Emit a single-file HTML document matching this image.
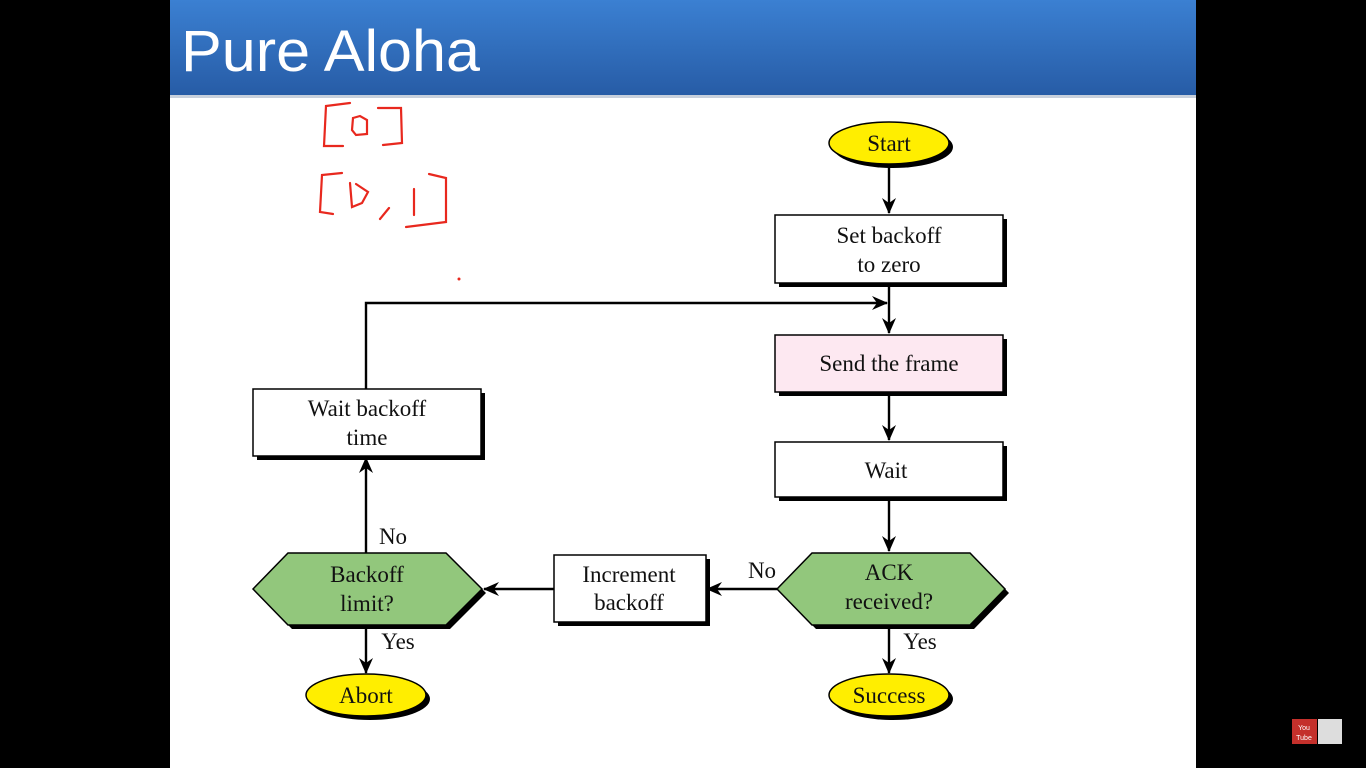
<!DOCTYPE html>
<html><head><style>
html,body{margin:0;padding:0;background:#000;width:1366px;height:768px;overflow:hidden}
svg{display:block}
</style></head><body>
<svg width="1366" height="768" viewBox="0 0 1366 768" xmlns="http://www.w3.org/2000/svg">
<defs>
<linearGradient id="hg" x1="0" y1="0" x2="0" y2="1">
<stop offset="0" stop-color="#3b80d2"/><stop offset="1" stop-color="#275ca6"/>
</linearGradient>
<marker id="ar" viewBox="0 0 16 14" refX="15" refY="7" markerWidth="16" markerHeight="14" markerUnits="userSpaceOnUse" orient="auto">
<path d="M0,0 L16,7 L0,14 L5,7 Z" fill="#000"/>
</marker>
</defs>
<rect x="170" y="0" width="1026" height="768" fill="#fff"/>
<rect x="170" y="0" width="1026" height="95" fill="url(#hg)"/>
<rect x="170" y="95" width="1026" height="3" fill="#c8d0dc"/>
<text x="181" y="71" font-family="Liberation Sans, sans-serif" font-size="58" fill="#fff" textLength="299" lengthAdjust="spacingAndGlyphs">Pure Aloha</text>

<g fill="none" stroke="#e8281e" stroke-width="2.2" stroke-linecap="round">
<path d="M350,103 L326,106 L324,146 L343,146"/>
<path d="M353,118 L360,116 L367,120 L367,134 L356,135 L352,130 Z"/>
<path d="M378,108 L401,108 L402,143 L383,145"/>
<path d="M342,173 L322,175 L320,212 L333,214"/>
<path d="M350,183 L352,207 L362,203 L368,192 L356,184"/>
<path d="M389,208 L380,219"/>
<path d="M414,189 L414,215"/>
<path d="M429,174 L446,178 L446,222 L406,227"/>
</g>
<circle cx="459" cy="279" r="1.5" fill="#e8281e"/>

<g stroke="#000" stroke-width="2.4" fill="none">
<line x1="889" y1="165" x2="889" y2="213" marker-end="url(#ar)"/>
<line x1="889" y1="284" x2="889" y2="333" marker-end="url(#ar)"/>
<polyline points="366,389 366,303 887,303" marker-end="url(#ar)"/>
<line x1="889" y1="393" x2="889" y2="440" marker-end="url(#ar)"/>
<line x1="889" y1="498" x2="889" y2="551" marker-end="url(#ar)"/>
<line x1="889" y1="626" x2="889" y2="673" marker-end="url(#ar)"/>
<line x1="777" y1="589" x2="707" y2="589" marker-end="url(#ar)"/>
<line x1="554" y1="589" x2="484" y2="589" marker-end="url(#ar)"/>
<line x1="366" y1="553" x2="366" y2="458" marker-end="url(#ar)"/>
<line x1="366" y1="626" x2="366" y2="673" marker-end="url(#ar)"/>
</g>

<g font-family="Liberation Serif, serif" font-size="23" fill="#111" text-anchor="middle">
<ellipse cx="893" cy="147" rx="60" ry="21" fill="#000"/>
<ellipse cx="889" cy="143" rx="60" ry="21" fill="#ffee00" stroke="#000" stroke-width="1.5"/>
<text x="889" y="151">Start</text>
<rect x="779" y="219" width="228" height="68" fill="#000"/>
<rect x="775" y="215" width="228" height="68" fill="#fff" stroke="#000" stroke-width="1.5"/>
<text x="889" y="243">Set backoff</text><text x="889" y="272">to zero</text>
<rect x="779" y="339" width="228" height="57" fill="#000"/>
<rect x="775" y="335" width="228" height="57" fill="#fde8f1" stroke="#000" stroke-width="1.5"/>
<text x="889" y="371">Send the frame</text>
<rect x="779" y="446" width="228" height="55" fill="#000"/>
<rect x="775" y="442" width="228" height="55" fill="#fff" stroke="#000" stroke-width="1.5"/>
<text x="886" y="478">Wait</text>
<polygon points="781,593 816,557 974,557 1009,593 974,629 816,629" fill="#000"/>
<polygon points="777,589 812,553 970,553 1005,589 970,625 812,625" fill="#92c77c" stroke="#000" stroke-width="1.5"/>
<text x="889" y="580">ACK</text><text x="889" y="609">received?</text>
<rect x="558" y="559" width="152" height="67" fill="#000"/>
<rect x="554" y="555" width="152" height="67" fill="#fff" stroke="#000" stroke-width="1.5"/>
<text x="629" y="582">Increment</text><text x="629" y="610">backoff</text>
<polygon points="257,593 292,557 450,557 486,593 450,629 292,629" fill="#000"/>
<polygon points="253,589 288,553 446,553 482,589 446,625 288,625" fill="#92c77c" stroke="#000" stroke-width="1.5"/>
<text x="367" y="582">Backoff</text><text x="367" y="611">limit?</text>
<rect x="257" y="393" width="228" height="67" fill="#000"/>
<rect x="253" y="389" width="228" height="67" fill="#fff" stroke="#000" stroke-width="1.5"/>
<text x="367" y="416">Wait backoff</text><text x="367" y="445">time</text>
<ellipse cx="370" cy="699" rx="60" ry="21" fill="#000"/>
<ellipse cx="366" cy="695" rx="60" ry="21" fill="#ffee00" stroke="#000" stroke-width="1.5"/>
<text x="366" y="703">Abort</text>
<ellipse cx="893" cy="699" rx="60" ry="21" fill="#000"/>
<ellipse cx="889" cy="695" rx="60" ry="21" fill="#ffee00" stroke="#000" stroke-width="1.5"/>
<text x="889" y="703">Success</text>
<text x="762" y="578">No</text>
<text x="920" y="649">Yes</text>
<text x="393" y="544">No</text>
<text x="398" y="649">Yes</text>
</g>

<rect x="1292" y="719" width="25" height="25" fill="#c4302b"/>
<rect x="1318" y="719" width="24" height="25" fill="#ddd"/>
<text x="1304" y="730" font-family="Liberation Sans, sans-serif" font-size="7" fill="#fff" text-anchor="middle">You</text>
<text x="1304" y="740" font-family="Liberation Sans, sans-serif" font-size="7" fill="#fff" text-anchor="middle">Tube</text>
</svg>
</body></html>
